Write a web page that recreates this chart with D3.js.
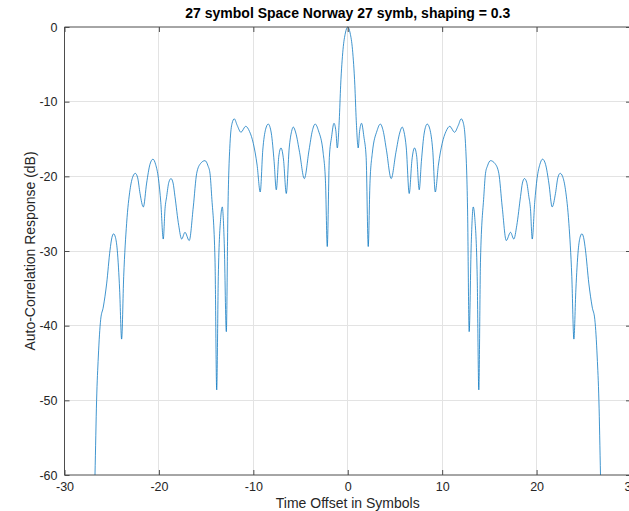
<!DOCTYPE html>
<html>
<head>
<meta charset="utf-8">
<script src="https://cdn.jsdelivr.net/npm/d3@7"></script>
<style>
  html, body { margin: 0; padding: 0; background: #fff; overflow: hidden; }
  svg { display: block; font-family: "Liberation Sans", Arial, Helvetica, sans-serif; }
</style>
</head>
<body>
<svg id="chart" width="629" height="511"></svg>
<script>
// Auto-correlation of the 27-symbol sequence (RRC shaping 0.3), in dB
const offsets = [
  -26.84, -26.77, -26.6, -26.42, -26.17, -25.89, -25.53, -25.18, -24.98, -24.8, -24.6, -24.41, -24.16, -23.95,
  -23.73, -23.42, -23.06, -22.75, -22.5, -22.25, -22.0, -21.65, -21.3, -20.95, -20.63, -20.35, -20.05, -19.8,
  -19.54, -19.35, -19.18, -18.95, -18.72, -18.5, -18.3, -17.9, -17.59, -17.24, -16.79, -16.36, -16.0, -15.6,
  -15.12, -14.8, -14.59, -14.41, -14.06, -13.88, -13.71, -13.45, -13.29, -13.08, -12.86, -12.69, -12.47, -12.25,
  -12.02, -11.7, -11.31, -10.81, -10.4, -10.0, -9.6, -9.27, -9.0, -8.7, -8.42, -8.1, -7.8, -7.57, -7.3, -7.07,
  -6.8, -6.51, -6.2, -5.95, -5.77, -5.5, -5.1, -4.6, -4.1, -3.75, -3.45, -3.1, -2.6, -2.35, -2.17, -1.95, -1.71,
  -1.46, -1.25, -1.11, -0.9, -0.75, -0.5, -0.25, 0,
  0.25, 0.5, 0.75, 0.9, 1.11, 1.25, 1.46, 1.71, 1.95, 2.17, 2.35, 2.6, 3.1, 3.45, 3.75, 4.1, 4.6, 5.1, 5.5,
  5.77, 5.95, 6.2, 6.51, 6.8, 7.07, 7.3, 7.57, 7.8, 8.1, 8.42, 8.7, 9.0, 9.27, 9.6, 10.0, 10.4, 10.81, 11.31,
  11.7, 12.02, 12.25, 12.47, 12.69, 12.86, 13.08, 13.29, 13.45, 13.71, 13.88, 14.06, 14.41, 14.59, 14.8, 15.12,
  15.6, 16.0, 16.36, 16.79, 17.24, 17.59, 17.9, 18.3, 18.5, 18.72, 18.95, 19.18, 19.35, 19.54, 19.8, 20.05,
  20.35, 20.63, 20.95, 21.3, 21.65, 22.0, 22.25, 22.5, 22.75, 23.06, 23.42, 23.73, 23.95, 24.16, 24.41, 24.6,
  24.8, 24.98, 25.18, 25.53, 25.89, 26.17, 26.42, 26.6, 26.77, 26.84
];
const responseDb = [
  -64, -60, -50, -44.2, -39.2, -37.5, -34.3, -29.9, -28.2, -27.7, -28.2, -29.9, -35.2, -41.8,
  -33.4, -26.3, -21.8, -20.0, -19.6, -20.2, -22.3, -24.1, -20.9, -18.4, -17.7, -18.4, -20.3, -23.5,
  -28.4, -24.3, -22.7, -20.8, -20.3, -20.9, -22.7, -26.6, -28.4, -27.5, -28.6, -24.1, -19.6, -18.3,
  -17.9, -18.6, -19.6, -22.7, -31.2, -48.6, -33.4, -25.5, -24.1, -29.0, -40.8, -24.5, -15.6, -12.9,
  -12.3, -13.2, -14.1, -13.3, -14.0, -15.6, -18.5, -22.1, -16.5, -13.7, -13.0, -14.2, -18.0, -21.8, -17.3, -16.2,
  -17.8, -22.3, -16.2, -14.0, -13.4, -14.2, -16.8, -20.3, -16.5, -13.9, -13.0, -13.9, -16.9, -21.0, -29.4, -17.5, -14.7,
  -12.9, -14.0, -16.2, -12.5, -7.8, -3.0, -0.8, 0,
  -0.8, -3.0, -7.8, -12.5, -16.2, -14.0, -12.9, -14.7, -17.5, -29.4, -21.0, -16.9, -13.9, -13.0, -13.9, -16.5, -20.3, -16.8, -14.2,
  -13.4, -14.0, -16.2, -22.3, -17.8, -16.2, -17.3, -21.8, -18.0, -14.2, -13.0, -13.7, -16.5, -22.1, -18.5, -15.6, -14.0, -13.3, -14.1,
  -13.2, -12.3, -12.9, -15.6, -24.5, -40.8, -29.0, -24.1, -25.5, -33.4, -48.6, -31.2, -22.7, -19.6, -18.6, -17.9,
  -18.3, -19.6, -24.1, -28.6, -27.5, -28.4, -26.6, -22.7, -20.9, -20.3, -20.8, -22.7, -24.3, -28.4, -23.5, -20.3,
  -18.4, -17.7, -18.4, -20.9, -24.1, -22.3, -20.2, -19.6, -20.0, -21.8, -26.3, -33.4, -41.8, -35.2, -29.9, -28.2,
  -27.7, -28.2, -29.9, -34.3, -37.5, -39.2, -44.2, -50, -60, -64
];
const xTicks = [-30, -20, -10, 0, 10, 20, 30];
const yTicks = [0, -10, -20, -30, -40, -50, -60];

const titleText = "27 symbol Space Norway 27 symb, shaping = 0.3";
const xLabel = "Time Offset in Symbols";
const yLabel = "Auto-Correlation Response (dB)";

const svg = d3.select("#chart");
const box = { left: 64.5, right: 631, top: 27, bottom: 475 };

const x = d3.scaleLinear().domain([-30, 30]).range([box.left, box.right]);
const y = d3.scaleLinear().domain([-60, 0]).range([box.bottom, box.top]);

const axisColor = "#262626";
const frameColor = "#4d4d4d";
const gridColor = "#e3e3e3";
const fontStack = "'Liberation Sans', Arial, Helvetica, sans-serif";

// grid
const grid = svg.append("g");
grid.selectAll(".gx").data(xTicks.slice(1, -1)).join("line")
  .attr("x1", d => x(d)).attr("x2", d => x(d))
  .attr("y1", box.top).attr("y2", box.bottom)
  .attr("stroke", gridColor).attr("stroke-width", 1).attr("shape-rendering", "crispEdges");
grid.selectAll(".gy").data(yTicks.slice(1, -1)).join("line")
  .attr("x1", box.left).attr("x2", box.right)
  .attr("y1", d => y(d)).attr("y2", d => y(d))
  .attr("stroke", gridColor).attr("stroke-width", 1).attr("shape-rendering", "crispEdges");

// curve, clipped to the axes box
svg.append("defs").append("clipPath").attr("id", "plotClip")
  .append("rect").attr("x", box.left).attr("y", box.top - 1)
  .attr("width", box.right - box.left).attr("height", box.bottom - box.top + 1);

const points = offsets.map((t, i) => [t, responseDb[i]]);
const line = d3.line().x(d => x(d[0])).y(d => y(d[1])).curve(d3.curveMonotoneX);
svg.append("path")
  .attr("clip-path", "url(#plotClip)")
  .attr("d", line(points))
  .attr("fill", "none")
  .attr("stroke", "#0072BD")
  .attr("stroke-width", 0.75)
  .attr("stroke-linejoin", "round");

// axes (ticks point inward, box on all sides); plain hyphen for negatives
const tickText = d => String(d);
const bottomAxis = d3.axisBottom(x).tickValues(xTicks).tickSize(-5).tickPadding(7).tickFormat(tickText);
const topAxis = d3.axisTop(x).tickValues(xTicks).tickSize(-5).tickFormat("");
const leftAxis = d3.axisLeft(y).tickValues(yTicks).tickSize(-5).tickPadding(7).tickFormat(tickText);
const rightAxis = d3.axisRight(y).tickValues(yTicks).tickSize(-5).tickFormat("");

function styleAxis(g) {
  g.select(".domain").attr("stroke", frameColor).attr("stroke-width", 1);
  g.selectAll(".tick line").attr("stroke", frameColor).attr("stroke-width", 1);
  g.selectAll(".tick text").attr("fill", axisColor).style("font-size", "12.5px")
    .style("font-family", fontStack);
}

svg.append("g").attr("transform", `translate(0,${box.bottom})`).call(bottomAxis).call(styleAxis)
  .call(g => g.select(".domain").attr("d", `M${box.left},0H${box.right}`));
svg.append("g").attr("transform", `translate(0,${box.top})`).call(topAxis).call(styleAxis)
  .call(g => g.select(".domain").attr("d", `M${box.left},0H${box.right}`));
svg.append("g").attr("transform", `translate(${box.left},0)`).call(leftAxis).call(styleAxis)
  .call(g => g.select(".domain").attr("d", `M0,${box.top}V${box.bottom}`));
svg.append("g").attr("transform", `translate(${box.right},0)`).call(rightAxis).call(styleAxis)
  .call(g => g.select(".domain").attr("d", `M0,${box.top}V${box.bottom}`));

// title and axis labels
svg.append("text")
  .attr("x", (box.left + box.right) / 2).attr("y", 18)
  .attr("text-anchor", "middle")
  .style("font-size", "14px").style("font-weight", "bold").attr("fill", "#000")
  .style("font-family", fontStack)
  .text(titleText);

svg.append("text")
  .attr("x", (box.left + box.right) / 2).attr("y", 508)
  .attr("text-anchor", "middle")
  .style("font-size", "14px").attr("fill", axisColor)
  .style("font-family", fontStack)
  .text(xLabel);

svg.append("text")
  .attr("transform", `translate(35,${(box.top + box.bottom) / 2}) rotate(-90)`)
  .attr("text-anchor", "middle")
  .style("font-size", "14px").attr("fill", axisColor)
  .style("font-family", fontStack)
  .text(yLabel);
</script>
</body>
</html>
